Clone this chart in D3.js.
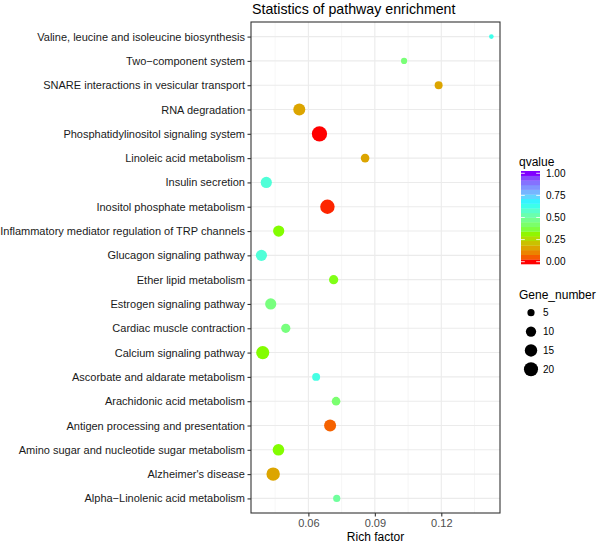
<!DOCTYPE html>
<html><head><meta charset="utf-8">
<script src="https://cdn.jsdelivr.net/npm/d3@7"></script>
<style>body{margin:0;background:#fff} text{font-family:"Liberation Sans",Arial,sans-serif}</style>
</head><body>
<svg id="c" width="600" height="543"></svg>
<script>
const pathways = [
  "Valine, leucine and isoleucine biosynthesis",
  "Two\u2212component system",
  "SNARE interactions in vesicular transport",
  "RNA degradation",
  "Phosphatidylinositol signaling system",
  "Linoleic acid metabolism",
  "Insulin secretion",
  "Inositol phosphate metabolism",
  "Inflammatory mediator regulation of TRP channels",
  "Glucagon signaling pathway",
  "Ether lipid metabolism",
  "Estrogen signaling pathway",
  "Cardiac muscle contraction",
  "Calcium signaling pathway",
  "Ascorbate and aldarate metabolism",
  "Arachidonic acid metabolism",
  "Antigen processing and presentation",
  "Amino sugar and nucleotide sugar metabolism",
  "Alzheimer's disease",
  "Alpha\u2212Linolenic acid metabolism"
];
const richFactor = [0.1426, 0.1032, 0.1188, 0.0559, 0.0650, 0.0856, 0.0410, 0.0686, 0.0466, 0.0388,
                    0.0714, 0.0430, 0.0498, 0.0394, 0.0635, 0.0725, 0.0698, 0.0465, 0.0441, 0.0728];
const geneNumber = [3, 4, 6, 14, 24, 7, 12, 21, 12, 12, 8, 12, 8, 17, 6, 7, 14, 13, 18, 5];
const qvalue = [0.63, 0.44, 0.16, 0.16, 0.00, 0.16, 0.60, 0.01, 0.33, 0.60,
                0.34, 0.45, 0.45, 0.33, 0.62, 0.43, 0.06, 0.33, 0.16, 0.50];
const xTicks = [0.06, 0.09, 0.12];
const xMinorTicks = [0.045, 0.075, 0.105, 0.135];
const qTicks = [0, 0.25, 0.5, 0.75, 1];
const sizeTicks = [5, 10, 15, 20];
const rainbowColours = ["#FF0000", "#80FF00", "#00FFFF", "#8000FF"];

const svg = d3.select("#c");
const P = {left: 251, right: 500, top: 22, bottom: 513};

const x = d3.scaleLinear().domain([0.0341, 0.1465]).range([P.left, P.right]);
const y = d3.scalePoint().domain(pathways).range([P.top, P.bottom]).padding(0.6);
const colour = d3.scaleLinear().domain([0, 1/3, 2/3, 1]).range(rainbowColours).interpolate(d3.interpolateLab);
const sizeRescale = d3.scaleLinear().domain([2.7, 24]).range([0, 1]);
const rArea = d3.scaleSqrt().domain([0, 1]).range([1.6, 7.65]);
const radius = n => rArea(Math.max(0, sizeRescale(n)));

// grid
const g = svg.append("g");
g.selectAll(".minor").data(xMinorTicks).enter().append("line")
  .attr("x1", d => x(d)).attr("x2", d => x(d)).attr("y1", P.top).attr("y2", P.bottom)
  .attr("stroke", "#F0F0F0").attr("stroke-width", 0.6);
g.selectAll(".majx").data(xTicks).enter().append("line")
  .attr("x1", d => x(d)).attr("x2", d => x(d)).attr("y1", P.top).attr("y2", P.bottom)
  .attr("stroke", "#EBEBEB").attr("stroke-width", 1.1);
g.selectAll(".majy").data(pathways).enter().append("line")
  .attr("x1", P.left).attr("x2", P.right).attr("y1", d => y(d)).attr("y2", d => y(d))
  .attr("stroke", "#EBEBEB").attr("stroke-width", 1.1);

// points
const data = pathways.map((p, i) => ({p, rf: richFactor[i], n: geneNumber[i], q: qvalue[i]}));
svg.append("g").selectAll("circle").data(data).enter().append("circle")
  .attr("cx", d => x(d.rf)).attr("cy", d => y(d.p)).attr("r", d => radius(d.n))
  .attr("fill", d => colour(d.q));

// border
svg.append("rect").attr("x", P.left).attr("y", P.top).attr("width", P.right - P.left).attr("height", P.bottom - P.top)
  .attr("fill", "none").attr("stroke", "#333333").attr("stroke-width", 1.1);

// axes
const xAxis = d3.axisBottom(x).tickValues(xTicks).tickFormat(d3.format(".2f")).tickSizeOuter(0).tickSize(3.5).tickPadding(2.5);
const xa = svg.append("g").attr("transform", `translate(0,${P.bottom})`).call(xAxis);
xa.select(".domain").remove();
xa.selectAll("line").attr("stroke", "#333333").attr("stroke-width", 1.1);
xa.selectAll("text").attr("fill", "#4D4D4D").attr("font-size", "11px").style("font-family", "Liberation Sans, Arial, sans-serif");

const yAxis = d3.axisLeft(y).tickSizeOuter(0).tickSize(3.5).tickPadding(2.5);
const ya = svg.append("g").attr("transform", `translate(${P.left},0)`).call(yAxis);
ya.select(".domain").remove();
ya.selectAll("line").attr("stroke", "#333333").attr("stroke-width", 1.1);
ya.selectAll("text").attr("fill", "#1A1A1A").attr("font-size", "11px").style("font-family", "Liberation Sans, Arial, sans-serif");

// titles
svg.append("text").attr("x", P.left + 1).attr("y", 14).attr("font-size", "14.2px").attr("fill", "#000")
  .text("Statistics of pathway enrichment");
svg.append("text").attr("x", (P.left + P.right) / 2).attr("y", 541).attr("text-anchor", "middle")
  .attr("font-size", "12px").attr("fill", "#000").text("Rich factor");

// colour legend
const L = {x: 521, w: 19, top: 171, bottom: 264};
svg.append("text").attr("x", 519).attr("y", 166).attr("font-size", "12px").text("qvalue");
const nbin = 20;
const binH = (L.bottom - L.top) / nbin;
const binVals = d3.range(nbin).map(i => i / (nbin - 1));
const qy = d3.scaleLinear().domain([0, 1]).range([L.bottom - binH / 2, L.top + binH / 2]);
svg.append("g").selectAll("rect").data(binVals).enter().append("rect")
  .attr("x", L.x).attr("width", L.w)
  .attr("y", (d, i) => L.bottom - (i + 1) * binH).attr("height", binH + 0.3)
  .attr("fill", d => colour(d));
const tk = svg.append("g");
tk.selectAll(".tl").data(qTicks).enter().append("line")
  .attr("x1", L.x).attr("x2", L.x + 3.8).attr("y1", d => qy(d)).attr("y2", d => qy(d))
  .attr("stroke", "#fff").attr("stroke-width", 0.8);
tk.selectAll(".tr").data(qTicks).enter().append("line")
  .attr("x1", L.x + L.w - 3.8).attr("x2", L.x + L.w).attr("y1", d => qy(d)).attr("y2", d => qy(d))
  .attr("stroke", "#fff").attr("stroke-width", 0.8);
tk.selectAll("text").data(qTicks).enter().append("text")
  .attr("x", 546).attr("y", d => qy(d)).attr("dy", "0.35em").attr("font-size", "10px").attr("fill", "#000")
  .text(d => d3.format(".2f")(d));

// size legend
svg.append("text").attr("x", 519).attr("y", 299).attr("font-size", "12px").text("Gene_number");
const sy = d3.scalePoint().domain(sizeTicks).range([312.7, 369.3]);
const sl = svg.append("g");
sl.selectAll("circle").data(sizeTicks).enter().append("circle")
  .attr("cx", 531).attr("cy", d => sy(d)).attr("r", d => radius(d)).attr("fill", "#000");
sl.selectAll("text").data(sizeTicks).enter().append("text")
  .attr("x", 543).attr("y", d => sy(d)).attr("dy", "0.35em").attr("font-size", "10px").text(d => d);
</script>
</body></html>
